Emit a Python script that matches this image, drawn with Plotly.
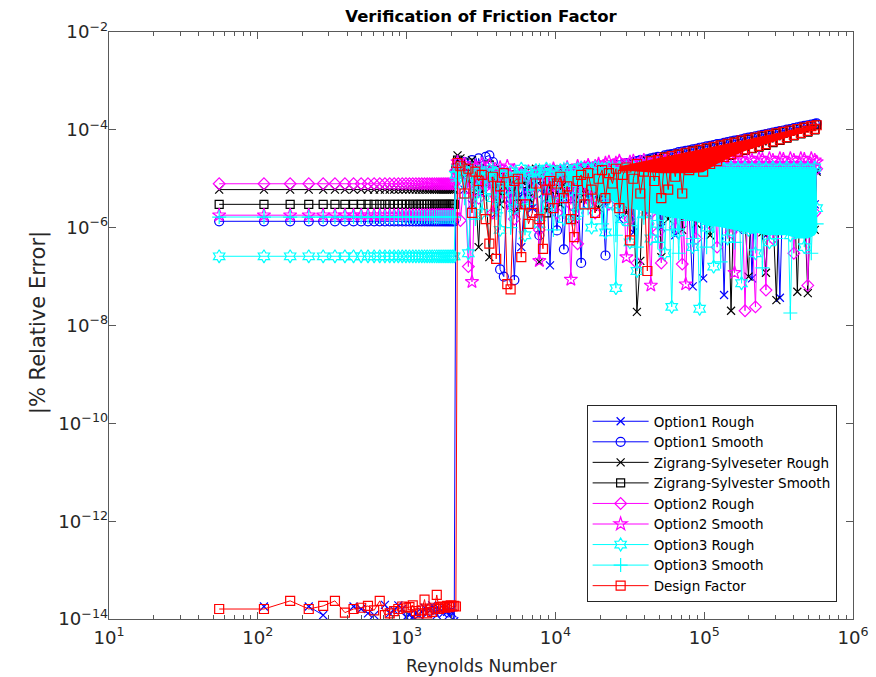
import plotly.graph_objects as go

# ---------------- data ----------------
RE_LAMINAR = [55, 110, 165, 220, 275, 330, 385, 440, 495, 550,
              605, 660, 715, 770, 825, 880, 935, 990, 1045, 1100,
              1155, 1210, 1265, 1320, 1375, 1430, 1485, 1540, 1595, 1650,
              1705, 1760, 1815, 1870, 1925, 1980, 2035, 2090]

RE_TURBULENT = [2145, 2200, 2300, 2450, 2600, 2750, 2900, 3050, 3200, 3400,
                3600, 3800, 4000, 4250, 4500, 4750, 5000, 5300, 5600, 5900,
                6250, 6600, 7000, 7400, 7800, 8250, 8700, 9200, 9700, 10250,
                10800, 11400, 12000, 12700, 13400, 14100, 14900, 15700, 16600, 17500,
                18500, 19500, 20600, 21700, 22900, 24200, 25500, 26900, 28400, 30000,
                31700, 33400, 35300, 37200, 39300, 41500, 43800, 46200, 48800, 51500,
                54300, 57300, 60500, 63900, 67400, 71200, 75100, 79300, 83700, 88300,
                93200, 98400, 103800, 109600, 115700, 122100, 128900, 136000, 143600, 151500,
                159900, 168800, 178200, 188100, 198500, 209500, 221100, 233400, 246300, 260000,
                274400, 289600, 305700, 322600, 340500, 359400, 379300, 400400, 422600, 446000,
                470700, 496800, 524400, 553500, 570000]

SERIES_NAMES = ["Option1 Rough", "Option1 Smooth", "Zigrang-Sylveseter Rough",
                "Zigrang-Sylvester Smooth", "Option2 Rough", "Option2 Smooth",
                "Option3 Rough", "Option3 Smooth", "Design Factor"]

# constant laminar-region error level of each series (None = listed separately)
LAMINAR_LEVELS = [None, 1.35e-6, 6.0e-6, 3.0e-6, 7.9e-6, 1.8e-6, 2.6e-7, 1.65e-6, None]

OPT1_ROUGH_LAMINAR = [None, 1.8e-14, None, 1.8e-14, 1.2e-14, None, None, 1.8e-14, 1.6e-14, 1.3e-14,
                      1.2e-14, None, 1.95e-14, 1.3e-14, 1.5e-14, 1.9e-14, 1.6e-14, 1.1e-14, 1.2e-14, 1.1e-14,
                      1.3e-14, 1.2e-14, 1.4e-14, 1.7e-14, 1.3e-14, 1.5e-14, 1.9e-14, 1.4e-14, 1.2e-14, 1.6e-14,
                      1.5e-14, 1.3e-14, 1.7e-14, 1.4e-14, 1.2e-14, 1.5e-14, 1.3e-14, 0.9e-14]

DESIGN_LAMINAR = [1.6e-14, 1.6e-14, 2.35e-14, 1.6e-14, 1.85e-14, 2.35e-14, 1.35e-14, 1.6e-14, 1.7e-14, 1.85e-14,
                  1.5e-14, 2.35e-14, 1.2e-14, 1.3e-14, 1.45e-14, 1.6e-14, 1.8e-14, 1.7e-14, 1.75e-14, 1.9e-14,
                  1.45e-14, 1.3e-14, 1.5e-14, 2.5e-14, 1.3e-14, 1.55e-14, 1.4e-14, 1.7e-14, 3.1e-14, 1.6e-14,
                  1.75e-14, 1.8e-14, 1.7e-14, 1.85e-14, 1.75e-14, 1.9e-14, 1.8e-14, 1.85e-14]

OPT1_ROUGH_TURB = [1.5e-5, 1.8e-5, 1.2e-5, 6e-6, 1.4e-5, 3e-6, 1.1e-5, 1.6e-5, 5e-6, 1.3e-5,
                   8e-6, 1.5e-5, 2e-6, 1.2e-5, 7e-6, 1e-5, 3e-6, 9e-6, 4e-6, 4e-7,
                   6e-6, 1.1e-5, 2.5e-6, 9e-6, 1.3e-5, 5e-6, 1.2e-5, 1.7e-7, 1e-5, 1.4e-5,
                   3e-6, 1.2e-5, 6e-6, 1.5e-5, 2e-6, 1.3e-5, 8e-6, 1.6e-5, 4e-6, 1.4e-5,
                   1.7e-5, 5e-6, 1.5e-5, 3e-6, 1.4e-5, 7e-6, 1.5e-5, 1.5e-6, 1.4e-5, 5e-6,
                   1.5e-5, 8e-7, 1.4e-5, 4e-6, 1.5e-5, 2e-6, 1.4e-5, 6e-6, 1.5e-5, 1e-6,
                   1.4e-5, 3e-6, 1.5e-5, 7e-7, 1.4e-5, 5e-6, 1.5e-5, 2e-6, 6.3e-8, 1.4e-5,
                   4e-6, 9.2e-8, 1.5e-5, 1.5e-6, 1.4e-5, 6e-6, 1.5e-5, 4.2e-8, 1.4e-5, 3e-6,
                   1.5e-5, 9e-7, 1.4e-5, 5e-6, 1.5e-5, 9.2e-8, 1.4e-5, 2e-6, 1.5e-5, 7e-7,
                   1.4e-5, 4e-6, 1.5e-5, 3.7e-8, 1.4e-5, 1.2e-6, 1.5e-5, 6e-6, 1.4e-5, 2e-6,
                   1.5e-5, 8e-7, 1.4e-5, 3e-6, 1.5e-5]

OPT1_SMOOTH_TURB = [1.2e-5, 2.0e-5, 1.6e-5, 2.2e-5, 1.2e-5, 2.4e-5, 9e-6, 2.6e-5, 1.4e-5, 2.8e-5,
                    3.0e-5, 2.2e-5, 1.5e-5, 1.4e-7, 1.0e-7, 8e-6, 5e-6, 8.5e-8, 6e-6, 1.1e-5,
                    4e-6, 9e-6, 2e-6, 1e-5, 7e-7, 1.2e-5, 3e-6, 1.1e-5, 5e-6, 8.8e-7,
                    1.3e-5, 3.6e-7, 1.2e-5, 4e-6, 1.4e-5, 6e-6, 1.9e-7, 1.5e-5, 3e-6, 1.6e-5,
                    5e-6, 1.7e-5, 7e-6, 2.7e-7, 1.7e-5, 1.8e-5, 1.9e-5, 1.2e-5, 2.0e-5, 2.1e-5,
                    1.5e-5, 2.2e-5, 2.3e-5, 2.4e-5, 1.8e-5, 2.5e-5, 2.6e-5, 2.7e-5, 2.8e-5, 2.2e-5,
                    3.0e-5, 3.1e-5, 3.2e-5, 3.3e-5, 3.5e-5, 3.6e-5, 3.7e-5, 3.8e-5, 4.0e-5, 4.1e-5,
                    4.3e-5, 4.4e-5, 4.6e-5, 4.7e-5, 4.9e-5, 5.1e-5, 5.2e-5, 5.4e-5, 5.6e-5, 5.8e-5,
                    6.0e-5, 6.2e-5, 6.4e-5, 6.7e-5, 6.9e-5, 7.1e-5, 7.4e-5, 7.6e-5, 7.9e-5, 8.2e-5,
                    8.5e-5, 8.8e-5, 9.1e-5, 9.4e-5, 9.7e-5, 1.01e-4, 1.04e-4, 1.08e-4, 1.12e-4, 1.16e-4,
                    1.2e-4, 1.24e-4, 1.28e-4, 1.32e-4, 1.35e-4]

ZS_ROUGH_TURB = [2.0e-5, 3.0e-5, 2.6e-5, 1.2e-5, 1.8e-5, 2.4e-5, 6e-6, 4e-7, 1.4e-5, 9e-6,
                 2.5e-7, 1.6e-5, 1.2e-5, 3e-6, 1.4e-5, 7e-6, 1.1e-5, 2e-6, 1.3e-5, 9e-6,
                 1.5e-5, 4e-6, 1.2e-5, 1.6e-5, 2e-7, 1.1e-5, 1.4e-5, 6e-6, 1.2e-5, 1.5e-5,
                 3e-6, 1.3e-5, 9e-6, 1.5e-5, 1.5e-6, 1.4e-5, 1.6e-5, 5e-6, 1.5e-5, 8e-6,
                 1.7e-5, 2.5e-6, 1.6e-5, 1.1e-5, 1.9e-5, 4e-6, 1.5e-5, 8e-6, 1.6e-5, 2e-6,
                 1.7e-5, 6e-6, 1.9e-8, 2.1e-7, 1.5e-5, 3e-6, 1.4e-5, 7e-6, 1.5e-5, 2.5e-7,
                 1.4e-5, 1.5e-6, 1.5e-5, 5e-6, 1.4e-5, 9e-7, 1.5e-5, 3e-6, 1.4e-5, 1.2e-6,
                 1.5e-5, 4e-6, 1.4e-5, 7e-7, 1.5e-5, 2e-6, 1.4e-5, 5e-6, 1.5e-5, 2e-8,
                 1.4e-5, 3e-6, 1.5e-5, 1e-6, 1e-7, 1.4e-5, 4e-6, 1.5e-5, 8e-7, 1.2e-7,
                 1.4e-5, 2e-6, 3.3e-8, 1.5e-5, 6e-6, 1.4e-5, 1.5e-6, 1.5e-5, 4.9e-8, 1.4e-5,
                 3e-6, 4.6e-8, 1.5e-5, 9e-7, 1.4e-5]

ZS_SMOOTH_TURB = [1.6e-5, 2.4e-5, 1.9e-5, 1.4e-5, 2.1e-5, 1.0e-5, 1.8e-5, 6e-6, 1.6e-5, 1.2e-5,
                  1.9e-5, 8e-6, 1.5e-5, 4e-6, 1.3e-5, 1e-5, 7e-6, 1.2e-5, 3e-6, 1.1e-5,
                  8e-6, 1.3e-5, 5e-6, 1.2e-5, 1e-5, 1.4e-5, 2e-6, 1.2e-5, 1.1e-5, 1.5e-5,
                  6e-6, 1.4e-5, 1.3e-5, 9e-6, 1.6e-5, 4e-6, 1.5e-5, 1.6e-5, 1e-5, 1.7e-5,
                  7e-6, 1.6e-5, 1.5e-5, 9e-6, 1.6e-5, 1.2e-5, 1.7e-5, 8e-6, 1.9e-5, 1.4e-5,
                  2.0e-5, 1e-5, 2.1e-5, 1.6e-5, 2.3e-5, 1.2e-5, 2.4e-5, 1.8e-5, 2.6e-5, 1.4e-5,
                  2.8e-5, 2e-5, 3.0e-5, 1.6e-5, 3.2e-5, 2.2e-5, 3.4e-5, 1.4e-5, 3.7e-5, 1.7e-5,
                  3.9e-5, 1.3e-5, 4.2e-5, 1.9e-5, 4.5e-5, 2.2e-5, 4.9e-5, 2.6e-5, 5.2e-5, 3e-5,
                  5.6e-5, 3.4e-5, 6e-5, 3.8e-5, 6.4e-5, 4.1e-5, 6.9e-5, 4.4e-5, 7.4e-5, 4.8e-5,
                  7.9e-5, 5.5e-5, 8.5e-5, 6.1e-5, 9.1e-5, 6.8e-5, 9.8e-5, 7.5e-5, 1.05e-4, 8.3e-5,
                  1.12e-4, 9e-5, 1.2e-4, 1e-4, 1.27e-4]

OPT2_ROUGH_TURB = [1.5e-5, 2.0e-5, 1.4e-6, 1.2e-5, 1.6e-7, 9e-6, 1.6e-5, 4e-6, 1.3e-5, 7e-6,
                   1.5e-5, 2e-6, 1.1e-5, 1.4e-5, 5e-6, 1.2e-5, 8e-6, 1.5e-6, 1e-5, 1.3e-5,
                   3e-6, 1.1e-5, 7e-6, 1.4e-5, 9e-7, 1.2e-5, 4e-6, 1.3e-5, 1.5e-5, 2e-6,
                   1.4e-5, 8e-6, 1.6e-5, 3e-6, 1.5e-5, 4.7e-7, 1.6e-5, 6e-6, 1.8e-5, 1.2e-5,
                   2e-6, 1.9e-5, 9e-6, 2.0e-5, 3e-6, 1.9e-5, 1.2e-5, 2.2e-5, 5e-6, 1.8e-5,
                   1.5e-6, 1.7e-5, 1.9e-7, 1.6e-5, 4e-6, 1.5e-5, 2e-6, 1.6e-5, 8e-7, 1.9e-7,
                   1.5e-5, 3e-6, 1.6e-5, 1e-6, 1.5e-5, 1.8e-7, 1.6e-5, 2.5e-6, 1.5e-5, 6e-7,
                   1.6e-5, 3e-6, 1.5e-5, 1.2e-6, 1.6e-5, 4e-7, 1.5e-5, 2e-6, 1.6e-5, 8e-7,
                   1.5e-5, 3e-6, 1.6e-5, 2e-8, 1.5e-5, 1e-6, 2.4e-8, 1.6e-5, 2e-6, 5.3e-8,
                   1.5e-5, 6e-7, 1.6e-5, 2.5e-6, 1.5e-5, 1e-6, 1.6e-5, 3e-7, 1.5e-5, 1.5e-6,
                   1.6e-5, 6.6e-8, 1.5e-5, 2e-6, 1.6e-5]

OPT2_SMOOTH_TURB = [1.3e-5, 2.2e-5, 1.5e-5, 2.0e-5, 6e-6, 7.8e-8, 1.8e-5, 1.2e-5, 2.0e-5, 8e-6,
                    1.9e-5, 1.4e-5, 4e-6, 1.7e-5, 1.1e-5, 1.8e-5, 3e-6, 1.5e-5, 9e-6, 1.3e-5,
                    1.1e-5, 1.4e-5, 5e-6, 1.2e-5, 2.1e-7, 1.3e-5, 1.5e-5, 7e-6, 1.6e-5, 1.2e-5,
                    4e-6, 1.5e-5, 1.7e-5, 8.7e-8, 1.4e-5, 1.8e-5, 6e-6, 1.7e-5, 1.9e-5, 3e-6,
                    1.8e-5, 2.0e-5, 1e-5, 2.1e-5, 2.2e-5, 5e-6, 2.1e-5, 2.3e-5, 1.2e-5, 2.5e-7,
                    2.2e-5, 2.3e-5, 8e-6, 2.2e-5, 2.4e-5, 1.3e-5, 6.6e-8, 2.3e-5, 2.4e-5, 7e-6,
                    2.3e-5, 2.5e-5, 1.4e-5, 2.4e-5, 2.5e-5, 9e-6, 7e-8, 2.4e-5, 2.6e-5, 1.5e-5,
                    2.5e-5, 2.6e-5, 1.1e-5, 2.5e-5, 2.7e-5, 1.6e-5, 2.5e-5, 2.6e-5, 1.2e-5, 2.5e-5,
                    1.2e-7, 2.6e-5, 2.5e-5, 1.4e-5, 2.6e-5, 2.4e-5, 1.7e-5, 2.6e-5, 2.5e-5, 1.3e-5,
                    2.6e-5, 2.4e-5, 1.6e-5, 2.6e-5, 2.5e-5, 1.2e-5, 2.6e-5, 2.4e-5, 1.7e-5, 2.6e-5,
                    2.5e-5, 1.4e-5, 2.6e-5, 2.4e-5, 2.2e-5]

OPT3_ROUGH_TURB = [1.2e-5, 1.6e-5, 8e-6, 1.5e-5, 3e-7, 1.2e-5, 5e-6, 1.4e-5, 2e-6, 1.1e-5,
                   1.5e-5, 4e-6, 1.3e-5, 9e-7, 1.2e-5, 6e-6, 1.4e-5, 2.5e-6, 1.1e-5, 1.6e-5,
                   7e-7, 1.3e-5, 5e-6, 1.5e-5, 1.2e-6, 1.4e-5, 1.6e-5, 3e-6, 1.4e-5, 8e-6,
                   1.5e-5, 1.5e-6, 1.6e-5, 6e-6, 1.5e-5, 2e-6, 1.7e-5, 9e-6, 1.6e-5, 1e-6,
                   1.7e-5, 4e-6, 1.6e-5, 8e-7, 1.7e-5, 3e-6, 5.8e-8, 1.7e-5, 1.5e-6, 1.6e-5,
                   5e-7, 1.7e-5, 1.3e-7, 1.6e-5, 2e-6, 1.7e-5, 6e-7, 1.6e-5, 1.2e-6, 1.7e-5,
                   3e-7, 1.6e-5, 2.4e-8, 1.7e-5, 8e-7, 1.6e-5, 2e-6, 1.7e-5, 4e-7, 1.6e-5,
                   2.2e-8, 1.7e-5, 1e-6, 1.6e-5, 1.6e-7, 1.7e-5, 2.5e-6, 1.6e-5, 6e-7, 1.7e-5,
                   1.5e-6, 1.6e-5, 7.3e-8, 1.7e-5, 9e-7, 1.6e-5, 3e-7, 1.7e-5, 2e-6, 1.6e-5,
                   5e-7, 1.7e-5, 1.2e-6, 1.6e-5, 3e-6, 1.7e-5, 7e-7, 1.6e-5, 1.8e-6, 1.7e-5,
                   4e-7, 1.6e-5, 1e-6, 1.7e-5, 2.5e-6]

OPT3_SMOOTH_TURB = [1.4e-5, 9e-6, 1.7e-5, 4e-6, 1.3e-5, 1.6e-5, 1.5e-6, 1.1e-5, 1.5e-5, 5e-6,
                    1.2e-5, 1.6e-5, 2e-6, 1.4e-5, 8e-6, 1.1e-5, 1e-6, 1.3e-5, 4e-6, 9e-6,
                    1.4e-5, 3e-6, 1.2e-5, 6e-6, 1.5e-5, 2e-6, 1.1e-5, 1.5e-5, 9e-7, 1.4e-5,
                    4e-6, 1.6e-5, 7e-6, 1.4e-5, 1.5e-6, 1.6e-5, 5e-6, 1.5e-5, 2.5e-6, 1.6e-5,
                    8e-6, 1.7e-5, 1.2e-6, 1.6e-5, 4e-6, 1.7e-5, 7e-7, 1.6e-5, 2.5e-6, 1.7e-5,
                    1.1e-6, 1.6e-5, 4e-7, 1.7e-5, 1.6e-6, 1.6e-5, 3e-6, 1.7e-5, 5e-7, 1.6e-5,
                    2e-6, 1.7e-5, 9e-7, 1.6e-5, 3e-7, 1.7e-5, 1.4e-6, 1.6e-5, 6e-7, 1.7e-5,
                    2.2e-6, 1.6e-5, 4e-7, 1.7e-5, 1.1e-6, 1.6e-5, 2e-7, 1.7e-5, 1.7e-6, 1.6e-5,
                    5e-7, 1.7e-5, 1.3e-6, 1.6e-5, 3e-6, 1.7e-5, 8e-7, 1.6e-5, 1.5e-7, 1.7e-5,
                    2.2e-6, 1.6e-5, 6e-7, 1.7e-5, 1.4e-6, 1.6e-5, 1.8e-8, 1.7e-5, 9e-7, 1.6e-5,
                    2e-6, 1.7e-5, 3e-7, 1.6e-5, 1.2e-6]

DESIGN_TURB = [1.8e-14, 2.1e-5, 1.8e-5, 5e-6, 1.6e-5, 2e-6, 1.4e-5, 9e-6, 1.2e-5, 1.5e-6,
               4.7e-7, 1.1e-5, 2.3e-7, 7e-6, 1.3e-5, 7e-8, 5.5e-8, 9e-6, 1e-5, 2.5e-7,
               3e-6, 1.2e-6, 2e-6, 8e-6, 1.5e-6, 3.7e-7, 6e-6, 9e-6, 2.5e-6, 8e-6,
               1.1e-5, 4e-6, 7e-6, 1.5e-6, 6.4e-7, 9e-6, 1.2e-5, 3e-6, 1.3e-5, 6e-6,
               2e-6, 1e-5, 1.5e-5, 4e-6, 1.3e-5, 8e-6, 1.6e-5, 2.5e-6, 1.2e-5, 1.7e-5,
               5.5e-7, 1e-5, 2e-5, 5e-6, 1.4e-5, 1.3e-7, 2.3e-5, 9e-6, 2.4e-5, 4e-6,
               2.7e-5, 6e-6, 2.9e-5, 1.1e-5, 3.1e-5, 5e-6, 3.4e-5, 1.5e-5, 3.6e-5, 1.8e-5,
               3.9e-5, 1.4e-5, 4.2e-5, 2e-5, 4.5e-5, 2.3e-5, 4.8e-5, 2.8e-5, 5.2e-5, 3.2e-5,
               5.5e-5, 3.6e-5, 6e-5, 4e-5, 6.4e-5, 4.3e-5, 6.9e-5, 4.7e-5, 7.4e-5, 5.1e-5,
               7.9e-5, 5.8e-5, 8.5e-5, 6.4e-5, 9.1e-5, 7.1e-5, 9.7e-5, 7.9e-5, 1.04e-4, 8.7e-5,
               1.11e-4, 9.5e-5, 1.19e-4, 1.05e-4, 1.24e-4]

TURBULENT_SERIES = [OPT1_ROUGH_TURB, OPT1_SMOOTH_TURB, ZS_ROUGH_TURB, ZS_SMOOTH_TURB,
                    OPT2_ROUGH_TURB, OPT2_SMOOTH_TURB, OPT3_ROUGH_TURB, OPT3_SMOOTH_TURB,
                    DESIGN_TURB]

# envelopes of the regions where the (very dense) points merge into solid bands
MAGENTA_BAND_RE = [26900, 37200, 51500, 71200, 98400, 136000, 188100, 260000, 359400, 496800, 570000]
MAGENTA_BAND_HIGH = [1.9e-5, 2.0e-5, 2.1e-5, 2.2e-5, 2.2e-5, 2.3e-5, 2.3e-5, 2.3e-5, 2.3e-5, 2.3e-5, 2.2e-5]
MAGENTA_BAND_LOW = [1.4e-5, 1.4e-5, 1.4e-5, 1.4e-5, 1.4e-5, 1.4e-5, 1.4e-5, 1.4e-5, 1.4e-5, 1.4e-5, 1.4e-5]

CYAN_BAND_RE = [12000, 14100, 16600, 19500, 22900, 26900, 31700, 37200, 43800, 51500,
                60500, 71200, 83700, 98400, 115700, 136000, 159900, 188100, 221100, 260000,
                305700, 359400, 422600, 496800, 553500, 570000]
CYAN_BAND_HIGH = [1.4e-5, 1.45e-5, 1.5e-5, 1.5e-5, 1.55e-5, 1.55e-5, 1.6e-5, 1.6e-5, 1.6e-5, 1.6e-5,
                  1.6e-5, 1.6e-5, 1.6e-5, 1.6e-5, 1.6e-5, 1.6e-5, 1.6e-5, 1.6e-5, 1.6e-5, 1.6e-5,
                  1.6e-5, 1.6e-5, 1.6e-5, 1.6e-5, 1.6e-5, 1.6e-5]
CYAN_BAND_LOW = [9e-6, 8e-6, 6e-6, 5e-6, 4e-6, 3e-6, 2.5e-6, 2.2e-6, 2e-6, 1.8e-6,
                 1.6e-6, 1.5e-6, 1.4e-6, 1.2e-6, 1.1e-6, 1e-6, 9e-7, 8e-7, 8e-7, 7e-7,
                 7e-7, 7e-7, 6e-7, 6e-7, 7e-7, 8e-7]

RED_BAND_RE = [26900, 33400, 41500, 51500, 63900, 79300, 98400, 122100, 151500, 188100,
               233400, 289600, 359400, 446000, 524400, 570000]
RED_BAND_HIGH = [1.8e-5, 2.06e-5, 2.37e-5, 2.72e-5, 3.13e-5, 3.58e-5, 4.12e-5, 4.73e-5, 5.42e-5, 6.23e-5,
                 7.16e-5, 8.22e-5, 9.45e-5, 1.08e-4, 1.2e-4, 1.26e-4]
RED_BAND_LOW = [1.5e-5, 1.4e-5, 1.35e-5, 1.3e-5, 1.3e-5, 1.3e-5, 1.35e-5, 2.0e-5, 2.8e-5, 3.7e-5,
                4.5e-5, 5.6e-5, 6.9e-5, 8.5e-5, 1.0e-4, 1.1e-4]

# ---------------- styling ----------------
COLORS = ["#0000ff", "#0000ff", "#000000", "#000000", "#ff00ff", "#ff00ff",
          "#00ffff", "#00ffff", "#ff0000"]
SYMBOLS = ["x-thin-open", "circle-open", "x-thin-open", "square-open", "diamond-open",
           "star-open", "hexagram-open", "cross-thin-open", "square-open"]
SIZES = [8, 9, 8, 8, 9, 10, 10, 10, 9]

FONT = "DejaVu Sans"
AXIS_COLOR = "#595959"
TEXT_COLOR = "#262626"
TICK_SIZE = 14.5


def band_trace(re_vals, high, low, color):
    return go.Scatter(x=re_vals + re_vals[::-1], y=high + low[::-1], mode="lines",
                      fill="toself", fillcolor=color, line=dict(width=0, color=color),
                      showlegend=False, hoverinfo="skip")


fig = go.Figure()
for i, name in enumerate(SERIES_NAMES):
    if i == 5:
        fig.add_trace(band_trace(MAGENTA_BAND_RE, MAGENTA_BAND_HIGH, MAGENTA_BAND_LOW, "#ff00ff"))
    if i == 6:
        fig.add_trace(band_trace(CYAN_BAND_RE, CYAN_BAND_HIGH, CYAN_BAND_LOW, "#00ffff"))
    if i == 8:
        fig.add_trace(band_trace(RED_BAND_RE, RED_BAND_HIGH, RED_BAND_LOW, "#ff0000"))
    if i == 0:
        lam = OPT1_ROUGH_LAMINAR
    elif i == 8:
        lam = DESIGN_LAMINAR
    else:
        lam = [LAMINAR_LEVELS[i]] * len(RE_LAMINAR)
    fig.add_trace(go.Scatter(
        x=RE_LAMINAR + RE_TURBULENT,
        y=lam + TURBULENT_SERIES[i],
        mode="lines+markers",
        name=name,
        line=dict(color=COLORS[i], width=1),
        marker=dict(symbol=SYMBOLS[i], size=SIZES[i], color=COLORS[i],
                    line=dict(color=COLORS[i], width=1.2)),
    ))

axis_common = dict(
    type="log", showline=True, linecolor=AXIS_COLOR, linewidth=1, mirror="ticks",
    ticks="inside", ticklen=7, tickwidth=1, tickcolor=AXIS_COLOR,
    showgrid=False, zeroline=False, exponentformat="power", tick0=0, automargin=False,
    tickfont=dict(family=FONT, size=TICK_SIZE, color=TEXT_COLOR),
)

fig.update_layout(
    width=876, height=677, autosize=False,
    margin=dict(l=109, r=23, t=32, b=58),
    paper_bgcolor="white", plot_bgcolor="white",
    title=dict(text="<b>Verification of Friction Factor</b>",
               font=dict(family=FONT, size=16.5, color="#000000"),
               x=0.5, xref="paper", xanchor="center",
               y=1 - 16 / 677, yref="container", yanchor="middle"),
    xaxis=dict(range=[1, 6], dtick=1, labelalias={"10": "10<sup>1</sup>"},
               ticklabelstandoff=3,
               minor=dict(ticks="inside", ticklen=4, tickwidth=1, tickcolor=AXIS_COLOR,
                          showgrid=False),
               **axis_common),
    yaxis=dict(range=[-14, -2], dtick=2, ticklabelstandoff=-3, **axis_common),
    legend=dict(x=0.978, y=0.029, xanchor="right", yanchor="bottom",
                bgcolor="white", bordercolor=TEXT_COLOR, borderwidth=1,
                font=dict(family=FONT, size=13.5, color="#000000"),
                tracegroupgap=0, itemwidth=56),
    showlegend=True,
    annotations=[
        dict(text="Reynolds Number", xref="paper", yref="paper",
             x=0.5, y=-0.0795, xanchor="center", yanchor="middle", showarrow=False,
             font=dict(family=FONT, size=17, color=TEXT_COLOR)),
        dict(text="|% Relative Error|", xref="paper", yref="paper",
             x=-0.0954, y=0.504, xanchor="center", yanchor="middle", showarrow=False,
             textangle=-90, font=dict(family=FONT, size=21, color=TEXT_COLOR)),
    ],
)

fig.write_html("out.html", config={"displayModeBar": False},
               post_script="document.body.style.margin='0';document.body.style.overflow='hidden';")
